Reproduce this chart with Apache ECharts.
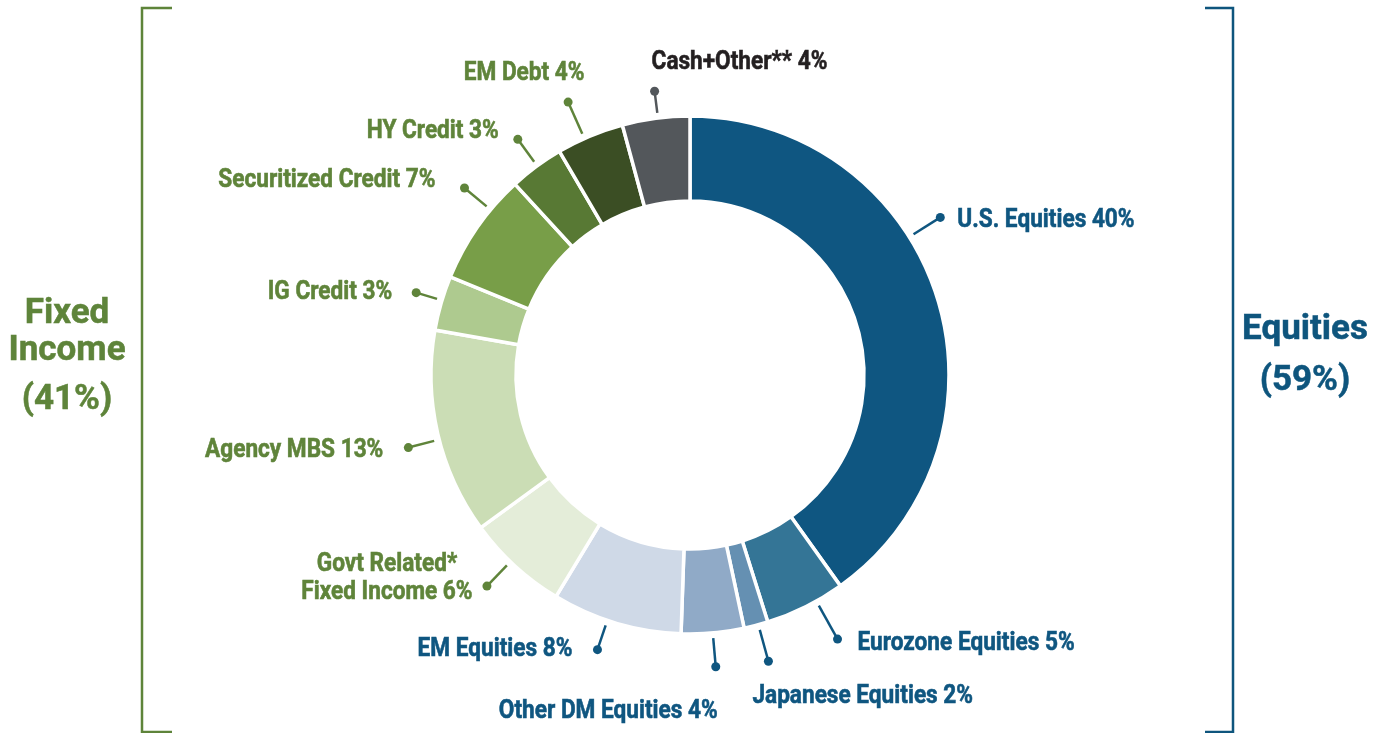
<!DOCTYPE html>
<html>
<head>
<meta charset="utf-8">
<title>Allocation</title>
<script src="https://cdn.jsdelivr.net/npm/echarts@6.0.0/dist/echarts.min.js"></script>
<style>
  html, body { margin: 0; padding: 0; background: #fff; }
  #container { width: 1390px; height: 733px; }
</style>
</head>
<body>
<div id="container"></div>
<script>
// slices, clockwise from 12 o'clock
var categories = ['U.S. Equities', 'Eurozone Equities', 'Japanese Equities', 'Other DM Equities',
  'EM Equities', 'Govt Related* Fixed Income', 'Agency MBS', 'IG Credit', 'Securitized Credit',
  'HY Credit', 'EM Debt', 'Cash+Other**'];
var values = [40.1, 5.0, 1.5, 3.9, 8.1, 6.3, 12.8, 3.4, 7.0, 3.4, 4.2, 4.2];
var labelTexts = ['U.S. Equities 40%', 'Eurozone Equities 5%', 'Japanese Equities 2%', 'Other DM Equities 4%',
  'EM Equities 8%', 'Govt Related*\nFixed Income 6%', 'Agency MBS 13%', 'IG Credit 3%', 'Securitized Credit 7%',
  'HY Credit 3%', 'EM Debt 4%', 'Cash+Other** 4%'];
var groups = ['eq', 'eq', 'eq', 'eq', 'eq', 'fi', 'fi', 'fi', 'fi', 'fi', 'fi', 'cash'];

var sliceColors = ['#0f5681', '#347596', '#6590b2', '#90aac7', '#cfd9e7', '#e4edd9',
  '#cbddb5', '#aeca8f', '#789e48', '#587934', '#3b4e24', '#53575b'];
var groupColors = { eq: '#0f5680', fi: '#5f843a', cash: '#231f20' };
var lineColors = { eq: '#0f5680', fi: '#5f843a', cash: '#53575b' };

// callout layout: position inside slice (0..1), dot radius (x outer radius), text placement
var calloutT = [0.40, 0.35, 0.4, 0.5, 0.57, 0.56, 0.47, 0.55, 0.69, 0.52, 0.41, 0.53];
var calloutR = [1.142, 1.168, 1.146, 1.131, 1.119, 1.131, 1.123, 1.104, 1.131, 1.127, 1.154, 1.104];
var textPos = [
  ['left', 17, 3], ['left', 20, 4], ['left', -16, 35], ['right', 2, 45],
  ['right', -25, 0], ['center', -100, -8], ['right', -25, 3], ['right', -24, 0],
  ['right', -29, -8], ['right', -19, -8], ['center', -44, -29], ['left', -3, -29]
];

var CX = 690, CY = 375, R_IN = 174, R_OUT = 259;
var total = values.reduce(function(a, b) { return a + b; }, 0);

var myChart = echarts.init(document.getElementById('container'));

var pieData = categories.map(function(name, i) {
  return { name: name, value: values[i], itemStyle: { color: sliceColors[i] } };
});

var cum = 0;
var calloutData = values.map(function(v, i) {
  var a = cum + v * calloutT[i];
  cum += v;
  return [calloutR[i], a, i];
});

function renderCallout(params, api) {
  var i = api.value(2);
  var ang = api.value(1);
  var p0 = api.coord([1.02, ang]);
  var p1 = api.coord([api.value(0), ang]);
  var g = groups[i];
  var tp = textPos[i];
  return {
    type: 'group',
    children: [
      { type: 'line', shape: { x1: p0[0], y1: p0[1], x2: p1[0], y2: p1[1] },
        style: { stroke: lineColors[g], lineWidth: 2.5 } },
      { type: 'circle', shape: { cx: p1[0], cy: p1[1], r: 4.5 }, style: { fill: lineColors[g] } },
      { type: 'text', x: p1[0] + tp[1], y: p1[1] + tp[2], scaleX: 0.87,
        style: { text: labelTexts[i], fill: groupColors[g], font: 'bold 26px Roboto',
          stroke: groupColors[g], lineWidth: 0.6,
          align: tp[0], verticalAlign: 'middle', lineHeight: 28 } }
    ]
  };
}

var green = '#5e843a', blue = '#0e557d';
var bigFont = 'bold 35px Roboto';

var option = {
  animation: false,
  polar: { center: [CX, CY], radius: R_OUT },
  angleAxis: { type: 'value', min: 0, max: total, startAngle: 90, clockwise: true,
    axisLine: { show: false }, axisTick: { show: false }, axisLabel: { show: false }, splitLine: { show: false } },
  radiusAxis: { type: 'value', min: 0, max: 1,
    axisLine: { show: false }, axisTick: { show: false }, axisLabel: { show: false }, splitLine: { show: false } },
  series: [
    {
      type: 'pie',
      center: [CX, CY],
      radius: [R_IN, R_OUT],
      startAngle: 90,
      clockwise: true,
      silent: true,
      label: { show: false },
      labelLine: { show: false },
      itemStyle: { borderColor: '#fff', borderWidth: 3.5 },
      data: pieData
    },
    {
      type: 'custom',
      coordinateSystem: 'polar',
      silent: true,
      clip: false,
      renderItem: renderCallout,
      data: calloutData
    }
  ],
  graphic: [
    // left bracket
    { type: 'polyline', shape: { points: [[172, 8], [142, 8], [142, 732], [172, 732]] },
      style: { stroke: green, lineWidth: 2.5, fill: null } },
    // right bracket
    { type: 'polyline', shape: { points: [[1205, 8], [1233, 8], [1233, 732], [1205, 732]] },
      style: { stroke: blue, lineWidth: 2.5, fill: null } },
    { type: 'text', x: 67, y: 333, style: { text: 'Fixed\nIncome', fill: green, font: bigFont,
      stroke: green, lineWidth: 0.5, align: 'center', verticalAlign: 'middle', lineHeight: 37 } },
    { type: 'text', x: 67, y: 400, style: { text: '(41%)', fill: green, font: bigFont,
      stroke: green, lineWidth: 0.5, align: 'center', verticalAlign: 'middle' } },
    { type: 'text', x: 1305, y: 330, style: { text: 'Equities', fill: blue, font: bigFont,
      stroke: blue, lineWidth: 0.5, align: 'center', verticalAlign: 'middle' } },
    { type: 'text', x: 1305, y: 381, style: { text: '(59%)', fill: blue, font: bigFont,
      stroke: blue, lineWidth: 0.5, align: 'center', verticalAlign: 'middle' } }
  ]
};

myChart.setOption(option);
</script>
</body>
</html>
